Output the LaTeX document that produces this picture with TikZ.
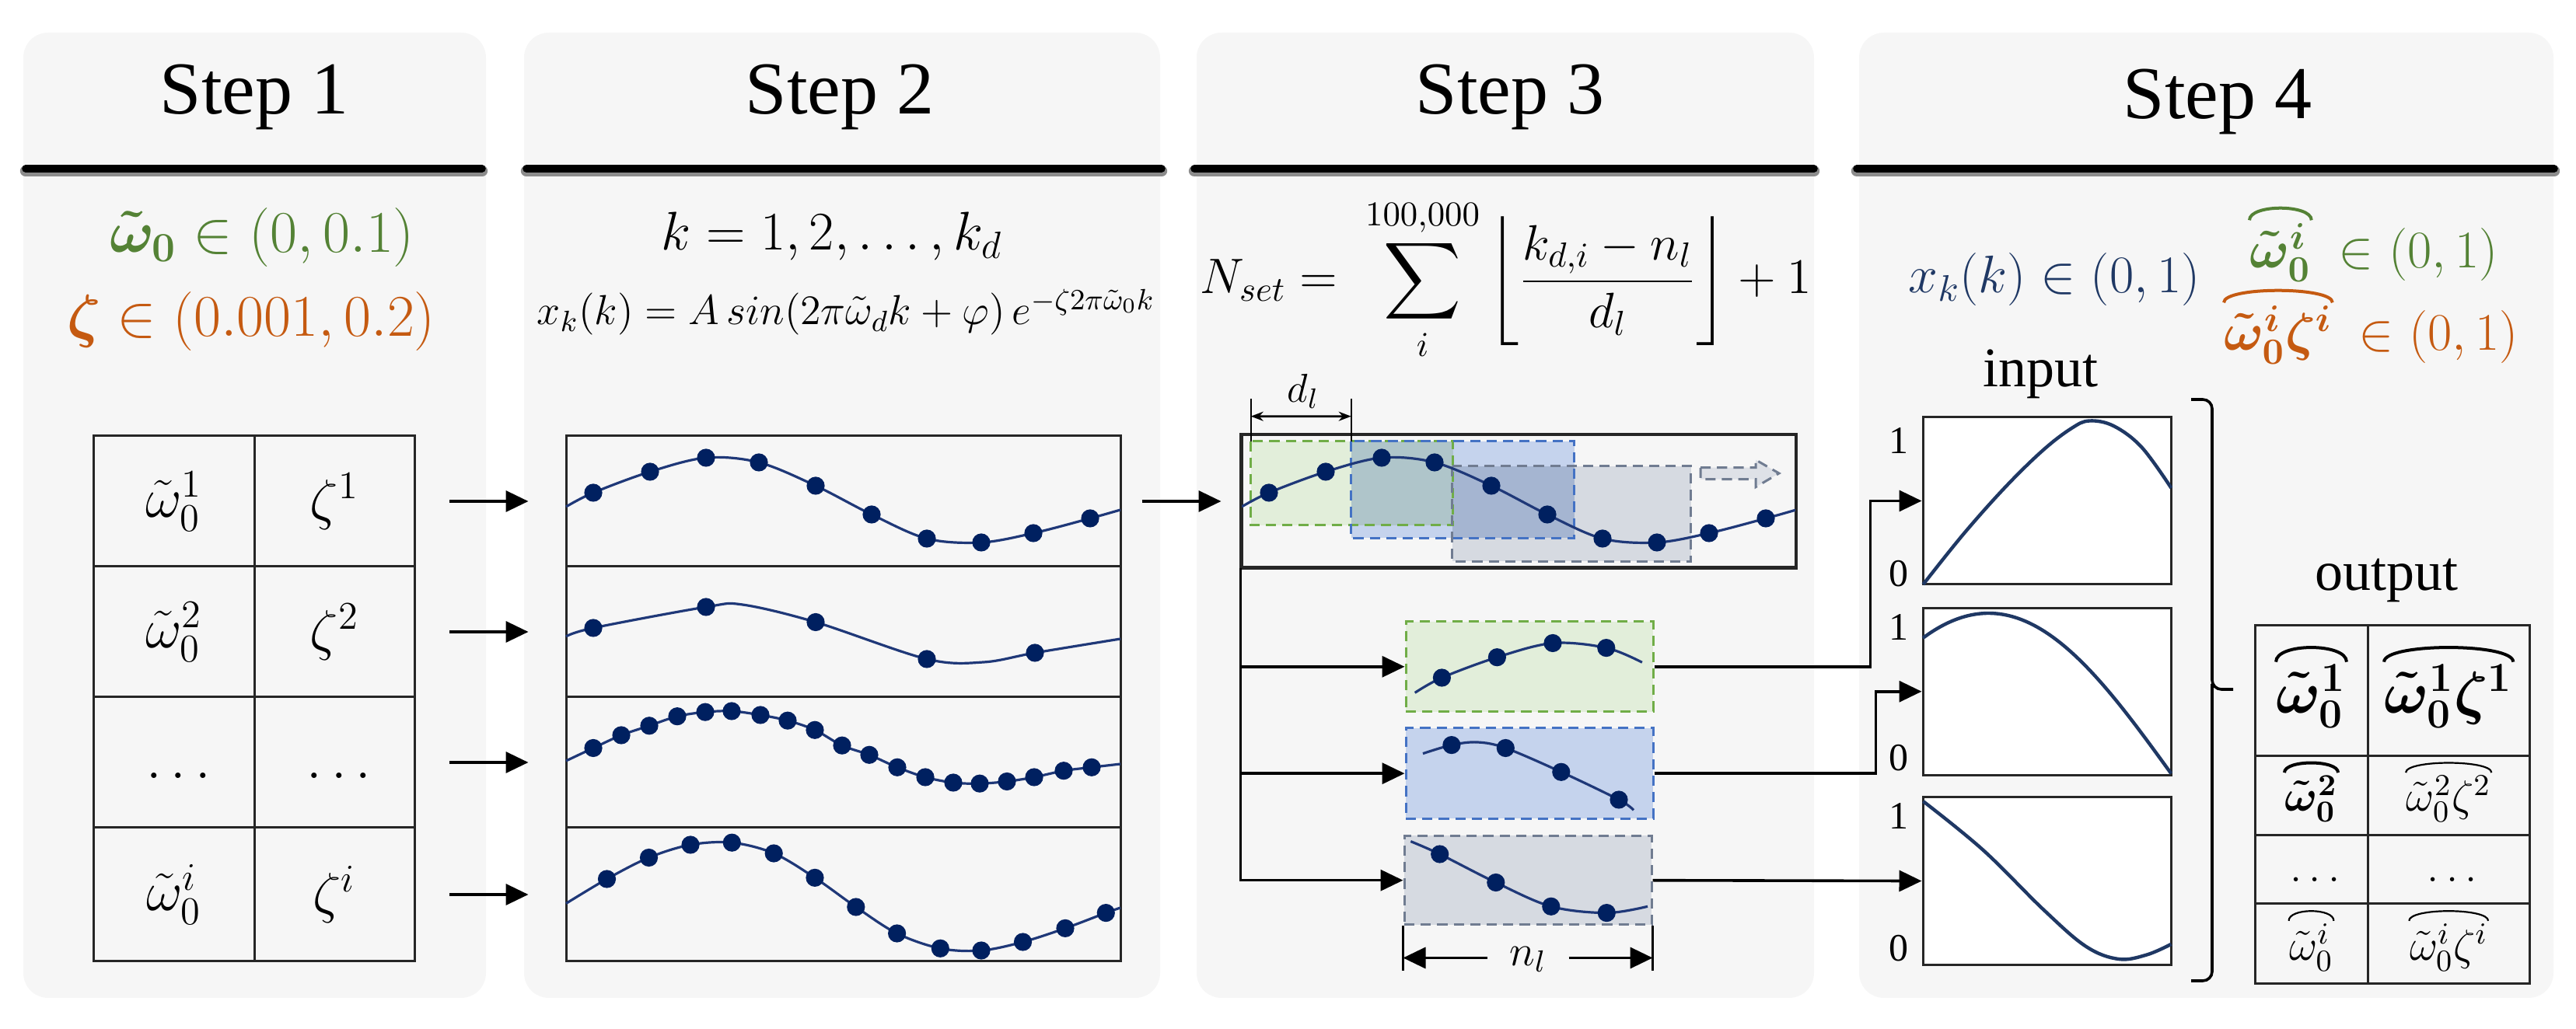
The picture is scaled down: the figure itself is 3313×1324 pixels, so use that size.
\RequirePackage{fix-cm}
\documentclass[tikz,border=0pt]{standalone}
\usepackage{amsmath,bm}
\usepackage[no-math]{fontspec}
\setmainfont{Liberation Serif}
\usetikzlibrary{arrows.meta,calc,fit}
\definecolor{panelbg}{RGB}{246,246,246}
\definecolor{cgreen}{RGB}{84,130,53}
\definecolor{corange}{RGB}{197,90,17}
\definecolor{cnavy}{RGB}{31,56,100}
\definecolor{cdot}{RGB}{0,32,96}
\definecolor{curvec}{RGB}{31,56,120}
\definecolor{fgreen}{RGB}{226,238,218}
\definecolor{fblue}{RGB}{197,211,237}
\definecolor{fgray}{RGB}{214,218,225}
\definecolor{fgb}{RGB}{175,197,202}
\definecolor{fbg}{RGB}{165,181,209}
\definecolor{dgreen}{RGB}{112,173,71}
\definecolor{dblue}{RGB}{68,114,196}
\definecolor{dgray}{RGB}{112,124,145}
\newcommand\fs[1]{\fontsize{#1}{#1}\selectfont}
\newcommand\hatarc[3]{\draw[#1] ([yshift=0.8pt]#2.north west) .. controls ([yshift=#3]#2.north west) and ([yshift=#3]#2.north east) .. ([yshift=0.8pt]#2.north east);}
\begin{document}
\begin{tikzpicture}[x=0.25pt,y=-0.25pt,
  panel/.style={fill=panelbg, rounded corners=8pt},
  rulegray/.style={line width=3.6pt, line cap=round, draw=black!45},
  ruleblack/.style={line width=2.4pt, line cap=round, draw=black},
  steptitle/.style={font=\fs{24}, anchor=base},
  cell/.style={draw=black!85, line width=0.75pt, inner sep=0pt},
  arr/.style={-{Triangle[length=7.25pt,width=6.75pt]}, line width=0.9pt},
  curve/.style={draw=curvec, line width=0.8pt},
  dbox/.style={dash pattern=on 3.3pt off 2pt, line width=0.75pt},
  plotbox/.style={draw=black!85, fill=white, line width=0.75pt, inner sep=0pt},
  pcurve/.style={draw=cnavy, line width=1.1pt},
  axl/.style={font=\fs{12.5}},
  hatthin/.style={line width=0.55pt},
  hatbold/.style={line width=1pt},
]
\useasboundingbox (0,0) rectangle (3313,1324);
% panels
\fill[panel] (30,42) rectangle (625,1284);
\fill[panel] (674,42) rectangle (1492,1284);
\fill[panel] (1539,42) rectangle (2333,1284);
\fill[panel] (2391,42) rectangle (3284,1284);
\foreach \a/\b in {33/620, 677/1494, 1536/2333, 2388/3285} {
  \draw[rulegray] (\a,220) -- (\b,220);
  \draw[ruleblack] (\a,217) -- (\b,217);
}
\node[steptitle] (s1) at (327,147) {Step 1};
\node[steptitle] (s2) at (1080,147) {Step 2};
\node[steptitle] (s3) at (1942,147) {Step 3};
\node[steptitle] (s4) at (2852,153) {Step 4};

% ---------- Step 1
\node[anchor=base, text=cgreen, font=\fs{19}] (g1) at (337,325) {$\bm{\tilde{\omega}_0} \in (0,0.1)$};
\node[anchor=base, text=corange, font=\fs{19}] (o1) at (323,433) {$\bm{\zeta} \in (0.001,0.2)$};
\foreach \r/\ya/\yb in {1/561/729, 2/729/897, 3/897/1065, 4/1065/1237} {
  \node[cell, fit={(120.5,\ya)(327,\yb)}] (ta\r) {};
  \node[cell, fit={(327,\ya)(533.5,\yb)}] (tb\r) {};
}
\node[font=\fs{18}] (ta1t) at (ta1.center) {$\tilde{\omega}_0^1$};
\node[font=\fs{18}] (tb1t) at (tb1.center) {$\zeta^1$};
\node[font=\fs{18}] (ta2t) at (ta2.center) {$\tilde{\omega}_0^2$};
\node[font=\fs{18}] (tb2t) at (tb2.center) {$\zeta^2$};
\node[font=\fs{18}] (ta3t) at (ta3.center) {$\vphantom{\tilde{\omega}_0^2}\ldots$};
\node[font=\fs{18}] (tb3t) at (tb3.center) {$\vphantom{\tilde{\omega}_0^2}\ldots$};
\node[font=\fs{18}] (ta4t) at (ta4.center) {$\tilde{\omega}_0^i$};
\node[font=\fs{18}] (tb4t) at (tb4.center) {$\zeta^i$};

% ---------- Step 2
\node[anchor=base, font=\fs{17.5}] (k2) at (1070,322) {$k = 1,2,\ldots,k_d$};
\node[anchor=base, font=\fs{13.5}] (x2) at (1088,418) {$x_k(k) = A\,sin(2\pi\tilde{\omega}_d k + \varphi)\,e^{-\zeta 2\pi\tilde{\omega}_0 k}$};
\foreach \r/\ya/\yb in {1/561/729, 2/729/897, 3/897/1065, 4/1065/1237} {
  \node[cell, fit={(728,\ya)(1441,\yb)}] (w\r) {};
}
\foreach \r in {1,...,4} {
  \draw[arr, shorten <=10.75pt, shorten >=11.75pt] (tb\r.east) -- (w\r.west);
}
% wave 1
\draw[curve] plot[smooth, tension=0.55] coordinates {(728,652) (763,634) (836,607) (908,589) (976,595) (1049,625) (1121,662) (1192,693) (1262,698) (1329,686) (1402,667) (1441,656)};
\foreach \p/\q in {763/634, 836/607, 908/589, 976/595, 1049/625, 1121/662, 1192/693, 1262/698, 1329/686, 1402/667}
  {\fill[cdot] (\p,\q) circle[radius=2.9pt];}
% wave 2
\draw[curve] plot[smooth, tension=0.55] coordinates {(728,819) (763,808) (908,781) (955,778) (1049,800.5) (1192,848) (1265,852) (1331,840) (1441,822)};
\foreach \p/\q in {763/808, 908/781, 1049/800.5, 1192/848, 1331/840}
  {\fill[cdot] (\p,\q) circle[radius=2.9pt];}
% wave 3
\draw[curve] plot[smooth, tension=0.55] coordinates {(728,979) (763,962.5) (799,946) (835,933.8) (871,921.7) (907,916.2) (941,915) (978,920) (1013,927.2) (1048,939.3) (1083,959.2) (1118,971.3) (1154,987.3) (1190,1000) (1226,1007) (1260,1008.2) (1295,1005.5) (1330,1000) (1368,991.7) (1404,987.3) (1441,983)};
\foreach \p/\q in {763/962.5, 799/946, 835/933.8, 871/921.7, 907/916.2, 941/915, 978/920, 1013/927.2, 1048/939.3, 1083/959.2, 1118/971.3, 1154/987.3, 1190/1000, 1226/1007, 1260/1008.2, 1295/1005.5, 1330/1000, 1368/991.7, 1404/987.3}
  {\fill[cdot] (\p,\q) circle[radius=2.9pt];}
% wave 4
\draw[curve] plot[smooth, tension=0.55] coordinates {(728,1162.5) (780.5,1131) (834.5,1103.5) (888,1087) (941.3,1084.2) (995.2,1098) (1048,1129.4) (1100.8,1167) (1153.6,1201) (1209.3,1220.3) (1262,1223) (1315.5,1212) (1370,1194.4) (1422.3,1174.6) (1441,1168)};
\foreach \p/\q in {780.5/1131, 834.5/1103.5, 888/1087, 941.3/1084.2, 995.2/1098, 1048/1129.4, 1100.8/1167, 1153.6/1201, 1209.3/1220.3, 1262/1223, 1315.5/1212, 1370/1194.4, 1422.3/1174.6}
  {\fill[cdot] (\p,\q) circle[radius=2.9pt];}

% ---------- Step 3
\node[anchor=base, font=\fs{16}] (n3) at (1937,378) {$\displaystyle N_{set} = \; \sum_{i}^{100{,}000} \left\lfloor \frac{k_{d,i}-n_l}{d_l} \right\rfloor + 1$};
\node[cell, fit={(1597,560)(2309,730)}] (big) {};
\node[inner sep=0pt, fit={(1609.5,568.5)(1868,675)}] (gw) {};
\node[inner sep=0pt, fit={(1738.5,568.5)(2024,691.4)}] (bw) {};
\node[inner sep=0pt, fit={(1868.5,600.5)(2174,721.7)}] (yw) {};
\fill[fgreen] (gw.north west) rectangle (gw.south east);
\fill[fblue] (bw.north west) rectangle (bw.south east);
\fill[fgray] (yw.north west) rectangle (yw.south east);
\fill[fgb] (bw.north west) rectangle (gw.south east);
\fill[fbg] (yw.north west) rectangle (bw.south east);
\draw[dbox, dgreen] (gw.north west) rectangle (gw.south east);
\draw[dbox, dblue] (bw.north west) rectangle (bw.south east);
\draw[dbox, dgray] (yw.north west) rectangle (yw.south east);
\draw[dbox, dgray, fill=fgray!80] (2187,601.7) -- (2258,601.7) -- (2258,591.7) -- (2288,609) -- (2258,626.7) -- (2258,616.7) -- (2187,616.7) -- cycle;
\begin{scope}[shift={(869,0)}]
\draw[curve] plot[smooth, tension=0.55] coordinates {(728,652) (763,634) (836,607) (908,589) (976,595) (1049,625) (1121,662) (1192,693) (1262,698) (1329,686) (1402,667) (1441,656)};
\foreach \p/\q in {763/634, 836/607, 908/589, 976/595, 1049/625, 1121/662, 1192/693, 1262/698, 1329/686, 1402/667}
  {\fill[cdot] (\p,\q) circle[radius=2.9pt];}
\end{scope}
\draw[cell] (big.north west) rectangle (big.south east);
\draw[arr, shorten <=6.5pt, shorten >=6.25pt] (w1.east) -- (big.west);
% d_l
\draw[line width=0.6pt] (gw.north west) -- ++(0,-55) coordinate (dA);
\draw[line width=0.6pt] (bw.north west) -- ++(0,-55) coordinate (dB);
\draw[{Stealth[length=4pt,width=3pt]}-{Stealth[length=4pt,width=3pt]}, line width=0.7pt] ($(dA)+(0,23)$) -- ($(dB)+(0,23)$);
\node[anchor=base, font=\fs{13}] (dl) at (1676,518) {$d_l$};
% small boxes
\node[dbox, draw=dgreen, fill=fgreen, inner sep=0pt, fit={(1808,800)(2126,915.6)}] (sg) {};
\node[dbox, draw=dblue, fill=fblue, inner sep=0pt, fit={(1808,937)(2126,1053.4)}] (sb) {};
\node[dbox, draw=dgray, fill=fgray, inner sep=0pt, fit={(1806,1075.4)(2124,1190)}] (sy) {};
\draw[arr] (big.south west) |- (sg.west);
\draw[arr] (big.south west) |- (sb.west);
\draw[arr] (big.south west) |- (sy.west);
\draw[curve] plot[smooth, tension=0.55] coordinates {(1819.7,891.4) (1854.4,872) (1925.4,845.7) (1997,827.5) (2065.8,833.6) (2111.9,852.3)};
\foreach \p/\q in {1854.4/872, 1925.4/845.7, 1997/827.5, 2065.8/833.6}
  {\fill[cdot] (\p,\q) circle[radius=2.9pt];}
\draw[curve] plot[smooth, tension=0.55] coordinates {(1830,969.6) (1866.9,958.6) (1900,955) (1936.3,962.5) (2007.8,993.3) (2082,1029) (2101,1042.4)};
\foreach \p/\q in {1866.9/958.6, 1936.3/962.5, 2007.8/993.3, 2082/1029}
  {\fill[cdot] (\p,\q) circle[radius=2.9pt];}
\draw[curve] plot[smooth, tension=0.55] coordinates {(1814.3,1082.6) (1851.7,1099) (1923.8,1135.5) (1994.8,1166.3) (2066.3,1174.6) (2119,1166.3)};
\foreach \p/\q in {1851.7/1099, 1923.8/1135.5, 1994.8/1166.3, 2066.3/1174.6}
  {\fill[cdot] (\p,\q) circle[radius=2.9pt];}
% n_l
\draw[line width=0.6pt] (sy.south west) -- ++(0,58);
\draw[line width=0.6pt] (sy.south east) -- ++(0,58);
\coordinate (nLa) at ($(sy.south west)+(0,41)$);
\coordinate (nRa) at ($(sy.south east)+(0,41)$);
\node[font=\fs{14}, inner xsep=7pt] (nl) at ($(nLa)!0.5!(nRa)+(0,2)$) {$n_l$};
\draw[arr] (nl.west |- nLa) -- (nLa);
\draw[arr] (nl.east |- nRa) -- (nRa);

% ---------- Step 4
\node[anchor=base, text=cnavy, font=\fs{17}] (xk4) at (2642,377) {$x_k(k) \in (0,1)$};
\node[anchor=base west, text=cgreen, font=\fs{17}, inner sep=0pt] (gh) at (2893,345) {$\bm{\tilde{\omega}_0^i}$};
\node[anchor=base west, text=cgreen, font=\fs{17}, inner sep=0pt] (gr) at (3007,345) {$\in (0,1)$};
\hatarc{hatbold, cgreen}{gh}{6pt}
\node[anchor=base west, text=corange, font=\fs{17}, inner sep=0pt] (oh) at (2860,451) {$\bm{\tilde{\omega}_0^i\zeta^i}$};
\node[anchor=base west, text=corange, font=\fs{17}, inner sep=0pt] (or) at (3033,451) {$\in (0,1)$};
\hatarc{hatbold, corange}{oh}{6pt}

\node[anchor=base, font=\fs{18}] (inp) at (2624,498) {input};
\node[plotbox, fit={(2473,537)(2792.5,752)}] (p1) {};
\node[plotbox, fit={(2473,782.3)(2792.5,997.2)}] (p2) {};
\node[plotbox, fit={(2473,1025.8)(2792.5,1241.3)}] (p3) {};
\begin{scope}
\clip (p1.north west) rectangle (p1.south east);
\draw[pcurve] plot[smooth, tension=0.6] coordinates {(2473.4,752) (2526.3,685.9) (2580.4,625.3) (2628.4,578.5) (2664.5,550.9) (2687.3,541.5) (2718.6,548.2) (2754.6,575.7) (2792.5,628)};
\end{scope}
\begin{scope}
\clip (p2.north west) rectangle (p2.south east);
\draw[pcurve] plot[domain=0:1, samples=40, smooth] ({2473+319.5*\x}, {995.5-206.5*sin(deg(1.007+2.135*\x))});
\end{scope}
\begin{scope}
\clip (p3.north west) rectangle (p3.south east);
\draw[pcurve] plot[smooth, tension=0.6] coordinates {(2473.4,1031) (2550.3,1093.6) (2628.4,1170.7) (2682.5,1217.6) (2724.6,1234) (2760.7,1228.6) (2792.5,1214.8)};
\end{scope}
\node[axl] (p1a) at (2442,567.4) {1};
\node[axl] (p1b) at (2442,738) {0};
\node[axl] (p2a) at (2442,807) {1};
\node[axl] (p2b) at (2442,975) {0};
\node[axl] (p3a) at (2442,1049.5) {1};
\node[axl] (p3b) at (2442,1220) {0};
\draw[arr] (sg.east) -- ++(278,0) |- (p1.west);
\draw[arr] (sb.east) -- ++(285,0) |- (p2.west);
\draw[arr] (sy.east) -- (p3.west);
% brace
\draw[line width=0.9pt, rounded corners=3pt] (2818,514) -| (2845,887) -- (2872,887);
\draw[line width=0.9pt, rounded corners=3pt] (2845,880) |- (2818,1262);
% output table
\node[anchor=base, font=\fs{18}] (outp) at (3069.5,760) {output};
\draw[cell] (2900,804.4) rectangle (3253.5,1266);
\draw[cell] (3045,804.4) -- (3045,1266);
\foreach \yy in {972.4, 1074.3, 1162.5} {\draw[cell] (2900,\yy) -- (3253.5,\yy);}
\node[font=\fs{19}, inner sep=0pt] (oa1t) at (2972.5,896) {$\bm{\tilde{\omega}_0^1}$};
\node[font=\fs{19}, inner sep=0pt] (ob1t) at (3149.2,896) {$\bm{\tilde{\omega}_0^1\zeta^1}$};
\hatarc{hatbold}{oa1t}{7pt}
\hatarc{hatbold}{ob1t}{7pt}
\node[font=\fs{14}, inner sep=0pt] (oa2t) at (2972.5,1028) {$\bm{\tilde{\omega}_0^2}$};
\node[font=\fs{14}, inner sep=0pt] (ob2t) at (3149.2,1028) {$\tilde{\omega}_0^2\zeta^2$};
\hatarc{hatbold}{oa2t}{5pt}
\hatarc{hatthin}{ob2t}{5pt}
\node[font=\fs{14}] (oa3t) at (2972.5,1118.4) {$\vphantom{\tilde{\omega}_0^2}\ldots$};
\node[font=\fs{14}] (ob3t) at (3149.2,1118.4) {$\vphantom{\tilde{\omega}_0^2}\ldots$};
\node[font=\fs{14}, inner sep=0pt] (oa4t) at (2972.5,1219) {$\tilde{\omega}_0^i$};
\node[font=\fs{14}, inner sep=0pt] (ob4t) at (3149.2,1219) {$\tilde{\omega}_0^i\zeta^i$};
\hatarc{hatthin}{oa4t}{5pt}
\hatarc{hatthin}{ob4t}{5pt}
\end{tikzpicture}
\end{document}
